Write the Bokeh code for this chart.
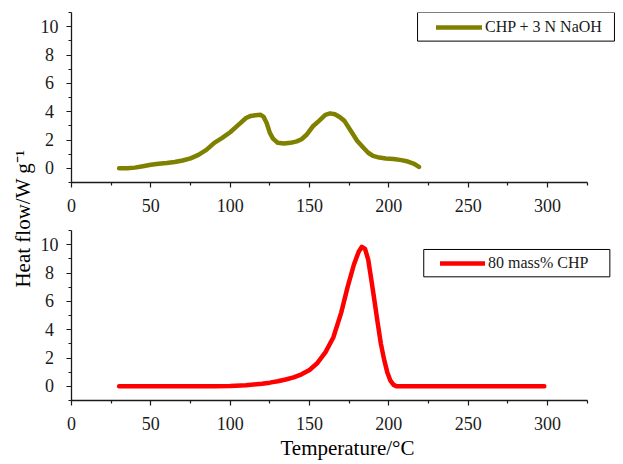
import math

from bokeh.embed import file_html
from bokeh.layouts import column, row
from bokeh.models import BoxAnnotation, FixedTicker, Label, Legend, LegendItem, Range1d
from bokeh.plotting import figure
from bokeh.resources import INLINE

# DSC trace: CHP + 3 N NaOH (temperature / °C, heat flow / W g-1)
naoh_temp = [30, 35, 40, 45, 50, 55, 60, 65, 70, 75, 80, 85, 90, 95, 100, 105,
             110, 113, 116, 119, 121, 123, 125, 127, 130, 134, 138, 142, 145,
             148, 152, 156, 160, 163, 166, 169, 172, 176, 180, 184, 187, 190,
             194, 198, 203, 208, 212, 216, 219]
naoh_flow = [0.0, 0.0, 0.05, 0.15, 0.25, 0.32, 0.37, 0.45, 0.55, 0.7, 0.95, 1.3,
             1.8, 2.15, 2.55, 3.05, 3.55, 3.7, 3.75, 3.78, 3.65, 3.2, 2.5, 2.1,
             1.8, 1.75, 1.8, 1.9, 2.05, 2.35, 2.95, 3.35, 3.78, 3.88, 3.82, 3.62,
             3.35, 2.65, 1.95, 1.45, 1.1, 0.88, 0.76, 0.7, 0.66, 0.58, 0.48,
             0.32, 0.1]

# DSC trace: 80 mass% CHP
chp_temp = [30, 40, 50, 60, 70, 80, 90, 100, 110, 120, 125, 130, 135, 140, 145,
            150, 155, 160, 165, 170, 174, 178, 181, 183, 185, 187, 189, 191, 193,
            195, 197, 199, 201, 203, 205, 210, 220, 240, 260, 280, 298]
chp_flow = [0.0, 0.0, 0.0, 0.0, 0.0, 0.0, 0.01, 0.03, 0.08, 0.18, 0.26, 0.36,
            0.48, 0.63, 0.85, 1.15, 1.65, 2.4, 3.45, 5.2, 7.0, 8.6, 9.5, 9.85,
            9.7, 8.95, 7.5, 6.0, 4.45, 3.0, 1.9, 1.0, 0.4, 0.1, 0.0, 0.0, 0.0,
            0.0, 0.0, 0.0, 0.0]

series_labels = ["CHP + 3 N NaOH", "80 mass% CHP"]
x_major = [0, 50, 100, 150, 200, 250, 300]
x_minor = [25, 75, 125, 175, 225, 275, 325]
y_major = [0, 2, 4, 6, 8, 10]
y_minor = [-1, 1, 3, 5, 7, 9, 11]

SERIF = "Liberation Serif"
INK = "#1a1a1a"
OLIVE = "#808000"
RED = "#ff0000"

PANEL_W = 587
FRAME_W = 552           # frame runs to the right edge so the legends sit inside it
X_END = FRAME_W / (476 / 300)


def style_panel(p):
    p.outline_line_color = None
    p.grid.visible = False
    p.background_fill_color = "white"
    p.border_fill_color = "white"
    p.xaxis.ticker = FixedTicker(ticks=x_major, minor_ticks=x_minor)
    p.yaxis.ticker = FixedTicker(ticks=y_major, minor_ticks=y_minor)
    p.xaxis.bounds = (0, 325)
    p.yaxis.bounds = (-1, 11)
    for ax in p.axis:
        ax.axis_line_width = 1.3
        ax.axis_line_color = INK
        ax.major_tick_line_color = INK
        ax.minor_tick_line_color = INK
        ax.major_tick_line_width = 1.2
        ax.minor_tick_line_width = 1.2
        ax.major_tick_in = 0
        ax.major_tick_out = 5
        ax.minor_tick_in = 0
        ax.minor_tick_out = 3
        ax.major_label_text_font = SERIF
        ax.major_label_text_font_size = "18px"
        ax.major_label_text_color = INK
    p.xaxis.major_label_standoff = 11
    p.yaxis.major_label_standoff = 8
    # single digits get a punctuation space so the column reads centred
    p.yaxis.major_label_overrides = {v: f"{v}\u2008" for v in y_major if v < 10}


def add_legend(p, renderer, label, box, loc, glyph_w):
    left, right, bottom, top = box
    frame_box = BoxAnnotation(left=left, right=right, bottom=bottom, top=top,
                              fill_color="white", fill_alpha=1.0,
                              line_color="black", line_alpha=1.0,
                              line_width=1, line_dash="solid")
    p.add_layout(frame_box)
    leg = Legend(items=[LegendItem(label=label, renderers=[renderer])],
                 location=loc, padding=0, margin=0, spacing=0,
                 border_line_color=None, background_fill_alpha=0,
                 glyph_width=glyph_w, glyph_height=16, label_height=16,
                 label_standoff=3, label_text_font=SERIF,
                 label_text_font_size="16px", label_text_color=INK)
    p.add_layout(leg, "center")


# upper panel
top = figure(width=PANEL_W, height=220, x_range=Range1d(0, X_END),
             y_range=Range1d(-1, 11), min_border_left=35, min_border_right=0,
             min_border_top=12, min_border_bottom=38,
             output_backend="svg", toolbar_location=None)
style_panel(top)
r_top = top.line(naoh_temp, naoh_flow, line_color=OLIVE, line_width=4.5,
                 line_cap="round", line_join="round")
add_legend(top, r_top, series_labels[0], (218.1, 342.2, 8.98, 11.0), (365, 146), 46)

# lower panel
bot = figure(width=PANEL_W, height=244, x_range=Range1d(0, X_END),
             y_range=Range1d(-1, 11), min_border_left=35, min_border_right=0,
             min_border_top=10, min_border_bottom=64,
             output_backend="svg", toolbar_location=None)
style_panel(bot)
r_bot = bot.line(chp_temp, chp_flow, line_color=RED, line_width=4.5,
                 line_cap="round", line_join="round")
add_legend(bot, r_bot, series_labels[1], (222.0, 339.3, 7.73, 9.66), (369, 128), 45)
bot.xaxis.axis_label = "Temperature/\u00b0C"
bot.xaxis.axis_label_text_font = SERIF
bot.xaxis.axis_label_text_font_size = "21px"
bot.xaxis.axis_label_text_font_style = "normal"
bot.xaxis.axis_label_text_color = "black"
bot.xaxis.axis_label_standoff = 3

# shared y-axis title spanning both panels
ylab = figure(width=36, height=464, x_range=Range1d(0, 36), y_range=Range1d(0, 464),
              x_axis_location=None, y_axis_location=None, min_border=0,
              output_backend="svg", toolbar_location=None)
ylab.outline_line_color = None
ylab.grid.visible = False
ylab.add_layout(Label(x=22, y=246, text="Heat flow/W g\u207b\u00b9", angle=math.pi / 2,
                      text_align="center", text_baseline="middle",
                      text_font=SERIF, text_font_size="21px", text_color="black"))

layout = row(ylab, column(top, bot))
open("out.html", "w").write(file_html(layout, INLINE))
